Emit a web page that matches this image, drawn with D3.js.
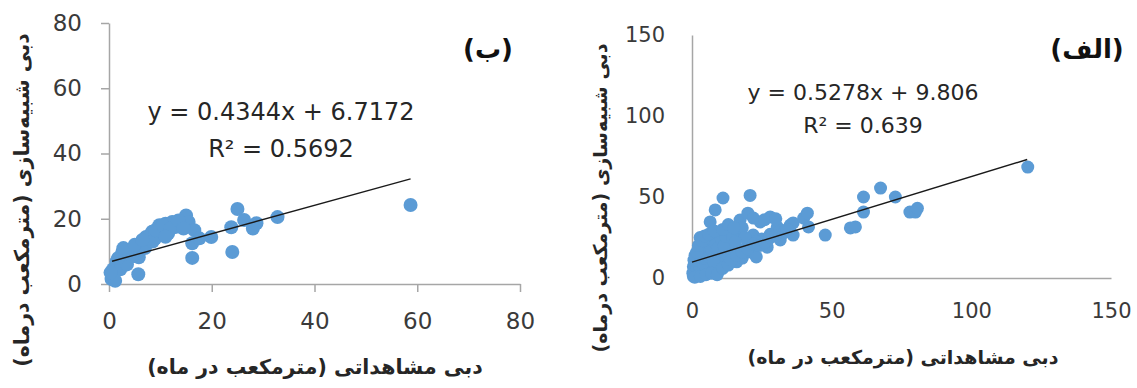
<!DOCTYPE html>
<html>
<head>
<meta charset="utf-8">
<script src="https://cdn.jsdelivr.net/npm/d3@7"></script>
<style>
  body { margin: 0; background: #fff; }
  svg { display: block; }
  .fa { font-family: "DejaVu Sans", sans-serif; font-weight: bold; direction: rtl; unicode-bidi: embed; }
</style>
</head>
<body>
<svg id="chart" width="1137" height="388"></svg>
<script>
// panel (ب) : observed vs simulated
const obsB = [0.5, 0.6, 1, 1.3, 0.8, 2, 1.5, 2.6, 3, 3.5, 4.9, 4, 5.8, 5.7, 6.5, 7.2, 7.5, 8.4, 8, 9, 9.8, 10.2, 10.7, 11, 12.3, 13, 14, 15, 15.5, 16.6, 16.2, 16.2, 17.6, 19.9, 23.8, 24, 25, 26.3, 28, 28.7, 32.8, 58.7, 9.5, 11.5, 2.2, 3.2, 1.2,
  3.5, 4.5, 6, 7, 8.5, 9, 10.5, 12, 13.5, 14.5, 1.8, 2.8, 0.3, 5, 6.5, 11];
const simB = [1.5, 2.7, 3.5, 5.2, 4.5, 6, 7, 9.8, 8.5, 10, 11, 9, 8.2, 3, 12, 14.4, 13, 16, 15, 14, 18, 17, 16, 18.5, 19, 17.5, 18, 21, 19, 16.5, 12.5, 8, 14, 14.4, 17.4, 9.8, 23, 19.6, 17, 18.6, 20.5, 24.2, 16.5, 15.5, 4.5, 7.5, 1,
  6, 8.5, 10.5, 11, 13, 16.5, 18, 17, 19.5, 17, 8, 11, 3.5, 12, 13.5, 14.5];
const fitB = { slope: 0.4344, icpt: 6.7172, from: 0.6, to: 58.7 };
const ticksB = [0, 20, 40, 60, 80];

// panel (الف)
const obsA = [0.5, 1, 1.5, 2, 2.5, 3, 3.5, 4, 1, 0.5, 2, 1.5, 3, 3.5, 4.5, 5, 5.5, 6, 6.5, 7, 7.5, 8, 8.5, 9, 9.5, 10, 2.5, 3, 4, 4.5, 5, 5.5, 6.5, 7, 7.5, 8, 9, 9.5, 10, 11, 12, 12.5, 13, 14, 15, 16, 17, 18, 19, 20, 21, 22, 23, 2.9, 1.1, 5.4, 6.5, 8.3, 11.1, 20.8, 10, 13.6, 16, 17.2, 20, 21.9, 24.4, 26.9, 28, 30.5, 31.6, 25, 28, 18, 22, 26, 30, 31, 23, 27, 19, 35.2, 36.2, 36.2, 40, 41.3, 41.7, 47.7, 56.7, 58.5, 61.4, 61.4, 67.5, 72.8, 78, 80, 80.7, 120.2,
  0.3, 0.8, 1.2, 1.8, 2.2, 2.8, 3.3, 3.8, 4.2, 4.8, 5.2, 5.8, 6.2, 6.8, 7.2, 7.8, 8.6, 9.2, 10.5, 11.5, 12, 14.5, 15.5, 0.7, 1.7, 2.3, 3.6, 4.5, 6, 8, 11, 13, 15,
  1, 3, 5, 7, 9, 11, 13, 14, 16, 18, 20, 22, 24, 26, 28, 30, 33, 34];
const simA = [1, 2, 3.5, 1.5, 4, 2.5, 5, 3, 5, 7, 8, 10, 9, 12, 7, 10, 6, 4, 9, 12, 5, 8, 14, 11, 4, 6, 14, 17, 20, 15, 18, 22, 16, 20, 24, 18, 21, 16, 14, 12, 10, 15, 20, 17, 13, 10, 15, 12.3, 18, 21, 16, 19, 13, 25, 14, 8, 34.6, 42, 49.4, 51, 27.8, 22, 27.8, 35.8, 40, 26.5, 34.6, 19, 37.7, 31.5, 23.5, 24, 27, 31, 37, 36, 36.5, 28, 22.5, 23, 25, 32.7, 26.5, 34, 37, 40, 31.5, 26.5, 30.9, 31.5, 50, 40.7, 55.5, 50, 40.7, 40.7, 43, 68.5,
  3, 5, 8, 6, 11, 7, 14, 9, 18, 12, 15, 20, 13, 23, 17, 10, 21, 18, 24, 20, 26, 25, 22, 11, 16, 20, 23, 26, 27, 29, 30, 33, 31,
  0.5, 1, 2, 3, 2, 6, 8, 11, 14, 16, 18, 21, 20, 22, 25, 26, 28, 30];
const fitA = { slope: 0.5278, icpt: 9.806, from: 0, to: 120 };
const ticksA = [0, 50, 100, 150];

const xTitle = "دبی مشاهداتی (مترمکعب در ماه)";
const yTitle = "دبی شبیه‌سازی (مترمکعب درماه)";

const svg = d3.select('#chart');
const blue = '#5b9bd5';
const axisGrey = '#a6a6a6';

function drawPanel(p) {
  const g = svg.append('g');
  const x = d3.scaleLinear().domain(p.xDom).range(p.xRange);
  const y = d3.scaleLinear().domain(p.yDom).range(p.yRange);

  const xa = g.append('g')
    .attr('transform', `translate(0, ${p.yRange[0]})`)
    .call(d3.axisBottom(x).tickValues(p.ticks).tickSize(p.tick).tickSizeOuter(0).tickPadding(p.xPad));
  const ya = g.append('g')
    .attr('transform', `translate(${p.xRange[0]}, 0)`)
    .call(d3.axisLeft(y).tickValues(p.ticks).tickSize(p.tick).tickSizeOuter(0).tickPadding(p.yPad));
  [xa, ya].forEach(a => {
    a.select('.domain').attr('stroke', axisGrey).attr('stroke-width', 1.5);
    a.selectAll('.tick line').attr('stroke', axisGrey).attr('stroke-width', 1.5);
    a.selectAll('.tick text')
      .attr('fill', '#3a3a3a')
      .style('font-family', '"DejaVu Sans", sans-serif')
      .style('font-size', p.tickFont + 'px');
  });

  const pts = p.obs.map((v, i) => [v, p.sim[i]]);
  g.append('g').selectAll('circle')
    .data(pts)
    .enter()
    .append('circle')
    .attr('cx', d => x(d[0]))
    .attr('cy', d => y(d[1]))
    .attr('r', p.r)
    .attr('fill', blue);

  const f = p.fit;
  g.append('line')
    .attr('x1', x(f.from)).attr('y1', y(f.slope * f.from + f.icpt))
    .attr('x2', x(f.to)).attr('y2', y(f.slope * f.to + f.icpt))
    .attr('stroke', '#1a1a1a')
    .attr('stroke-width', 1.4);

  // trendline label
  const eq = g.append('text')
    .attr('text-anchor', 'middle')
    .attr('fill', '#262626')
    .style('font-family', '"DejaVu Sans", sans-serif')
    .style('font-size', p.eqFont + 'px');
  eq.append('tspan').attr('x', p.eqX).attr('y', p.eqY[0])
    .text(`y = ${f.slope}x + ${f.icpt}`);
  eq.append('tspan').attr('x', p.eqX).attr('y', p.eqY[1])
    .text(`R² = ${p.r2}`);

  g.append('text')
    .attr('class', 'fa')
    .attr('x', p.xtX).attr('y', p.xtY)
    .attr('text-anchor', 'middle')
    .attr('fill', '#262626')
    .style('font-size', p.titleFont + 'px')
    .text(xTitle);

  g.append('text')
    .attr('class', 'fa')
    .attr('transform', `translate(${p.ytX}, ${p.ytY}) rotate(-90)`)
    .attr('text-anchor', 'middle')
    .attr('fill', '#262626')
    .style('font-size', p.titleFont + 'px')
    .text(yTitle);

  g.append('text')
    .attr('class', 'fa')
    .attr('x', p.tagX).attr('y', p.tagY)
    .attr('text-anchor', 'middle')
    .attr('fill', '#111')
    .style('font-size', '26px')
    .text(p.tag);
}

drawPanel({
  obs: obsB, sim: simB, fit: fitB, r2: 0.5692, ticks: ticksB,
  xDom: [0, 80], yDom: [0, 80], xRange: [109, 520], yRange: [284, 23],
  tick: 8, xPad: 21, yPad: 19, tickFont: 23, r: 7,
  eqX: 281, eqY: [120, 157], eqFont: 24,
  xtX: 315, xtY: 374, ytX: 29, ytY: 200, titleFont: 20.5,
  tag: '(ب)', tagX: 488, tagY: 58
});

drawPanel({
  obs: obsA, sim: simA, fit: fitA, r2: 0.639, ticks: ticksA,
  xDom: [0, 150], yDom: [0, 150], xRange: [692, 1111], yRange: [278, 35],
  tick: 0, xPad: 25, yPad: 27, tickFont: 21, r: 6.5,
  eqX: 863, eqY: [100, 133], eqFont: 22,
  xtX: 903, xtY: 364, ytX: 607, ytY: 198, titleFont: 19,
  tag: '(الف)', tagX: 1087, tagY: 58
});
</script>
</body>
</html>
